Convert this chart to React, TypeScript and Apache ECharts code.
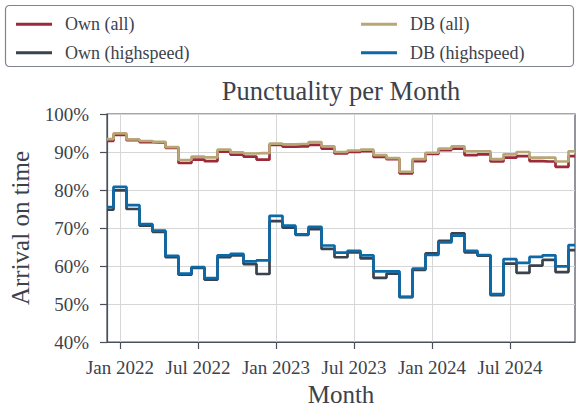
import React, { useEffect, useRef } from "react";
import * as echarts from "echarts";

// Monthly points Dec 2021 .. Dec 2024
const months: string[] = [
  "2021-12",
  "2022-01","2022-02","2022-03","2022-04","2022-05","2022-06","2022-07","2022-08","2022-09","2022-10","2022-11","2022-12",
  "2023-01","2023-02","2023-03","2023-04","2023-05","2023-06","2023-07","2023-08","2023-09","2023-10","2023-11","2023-12",
  "2024-01","2024-02","2024-03","2024-04","2024-05","2024-06","2024-07","2024-08","2024-09","2024-10","2024-11","2024-12",
];

const ownAll: number[] = [92.9, 94.5, 93.1, 92.6, 92.5, 91.1, 87.1, 88.0, 87.6, 90.1, 89.3, 88.8, 88.0, 91.9, 91.4, 91.5, 91.9, 90.9, 89.6, 90.0, 90.2, 88.7, 88.1, 84.4, 87.6, 89.5, 90.5, 90.9, 89.2, 89.4, 87.5, 88.5, 88.9, 87.6, 87.5, 86.1, 88.9];
const ownHigh: number[] = [74.8, 79.9, 75.0, 70.6, 69.0, 62.3, 57.7, 59.5, 56.4, 62.3, 62.8, 60.5, 57.9, 71.8, 70.1, 68.2, 69.7, 64.5, 62.3, 63.6, 62.0, 56.9, 58.0, 51.8, 59.0, 63.3, 66.6, 68.6, 63.6, 62.7, 52.3, 60.6, 58.2, 60.1, 61.6, 58.4, 64.2];
const dbAll: number[] = [93.4, 94.9, 93.3, 92.9, 92.7, 91.3, 87.9, 88.8, 88.6, 90.6, 89.9, 89.6, 89.7, 92.2, 92.0, 92.1, 92.6, 91.5, 90.0, 90.4, 90.6, 89.2, 88.4, 84.8, 88.1, 89.8, 90.9, 91.5, 90.2, 90.2, 88.1, 89.4, 90.0, 88.5, 88.5, 87.5, 90.2];
const dbHigh: number[] = [75.5, 80.8, 76.0, 71.0, 69.3, 62.7, 58.0, 59.7, 56.8, 62.8, 63.2, 61.2, 61.5, 73.2, 70.6, 68.3, 70.3, 65.4, 63.5, 64.0, 62.8, 58.6, 58.6, 51.9, 59.3, 62.9, 66.2, 68.0, 64.0, 62.9, 52.6, 61.8, 60.8, 62.4, 62.8, 59.9, 65.5];

const seriesNames: string[] = ["Own (all)", "Own (highspeed)", "DB (all)", "DB (highspeed)"];
const xTickLabels: string[] = ["Jan 2022", "Jul 2022", "Jan 2023", "Jul 2023", "Jan 2024", "Jul 2024"];
const xTickValues: number[] = [0, 6, 12, 18, 24, 30]; // months since Jan 2022
const yTicks: number[] = [40, 50, 60, 70, 80, 90, 100];

const FONT = "Liberation Serif";
const TEXT = "#3c424c";
const AXIS = "#4a505a";
const COLORS = ["#9c2a3a", "#3a424d", "#b8a676", "#0b69a7"];

const toPairs = (vals: number[]) => vals.map((v, i) => [i - 1, v]);

export default function App() {
  const ref = useRef<HTMLDivElement>(null);
  useEffect(() => {
    if (!ref.current) return;
    const chart = echarts.init(ref.current, undefined, { renderer: "svg" });
    const all = [ownAll, ownHigh, dbAll, dbHigh];
    const legendText = {
      fontFamily: FONT,
      fontSize: 18,
      color: TEXT,
      lineHeight: 22,
      padding: [0, 0, 0, 8],
    };
    chart.setOption({
      animation: false,
      backgroundColor: "#ffffff",
      textStyle: { fontFamily: FONT },
      title: {
        text: "Punctuality per Month",
        left: 341,
        textAlign: "center",
        top: 77,
        padding: 0,
        textStyle: { fontFamily: FONT, fontSize: 26.5, fontWeight: "normal", color: TEXT },
      },
      legend: [
        {
          orient: "vertical",
          left: 11,
          top: 8.3,
          itemGap: 6.4,
          icon: "rect",
          itemWidth: 36,
          itemHeight: 3,
          selectedMode: false,
          data: [seriesNames[0], seriesNames[1]],
          textStyle: legendText,
        },
        {
          orient: "vertical",
          left: 356,
          top: 8.3,
          itemGap: 6.4,
          icon: "rect",
          itemWidth: 36,
          itemHeight: 3,
          selectedMode: false,
          data: [seriesNames[2], seriesNames[3]],
          textStyle: legendText,
        },
      ],
      graphic: [
        {
          type: "rect",
          z: -1,
          shape: { x: 5.5, y: 5.5, width: 568, height: 61, r: 4 },
          style: { fill: "#ffffff", stroke: "#80858c", lineWidth: 1.2 },
        },
      ],
      grid: {
        left: 107,
        right: 3,
        top: 114,
        bottom: 67,
        show: true,
        borderColor: AXIS,
        borderWidth: 1.2,
        backgroundColor: "transparent",
      },
      xAxis: {
        type: "value",
        min: -1,
        max: 35,
        interval: 6,
        name: "Month",
        nameLocation: "middle",
        nameGap: 40,
        nameTextStyle: { fontFamily: FONT, fontSize: 25, color: TEXT },
        axisLine: { show: true, onZero: false, lineStyle: { color: AXIS, width: 1.2 } },
        axisTick: {
          show: true,
          length: 7,
          customValues: xTickValues,
          lineStyle: { color: AXIS, width: 1.2 },
        },
        axisLabel: {
          customValues: xTickValues,
          margin: 16,
          fontFamily: FONT,
          fontSize: 19,
          color: TEXT,
          formatter: (v: number) => {
            const k = xTickValues.indexOf(v);
            return k >= 0 ? xTickLabels[k] : "";
          },
        },
        splitLine: { show: true, lineStyle: { color: "#d6d6d6", width: 1 } },
      },
      yAxis: {
        type: "value",
        min: yTicks[0],
        max: yTicks[yTicks.length - 1],
        interval: 10,
        name: "Arrival on time",
        nameLocation: "middle",
        nameGap: 74,
        nameTextStyle: { fontFamily: FONT, fontSize: 25, color: TEXT },
        axisLine: { show: true, onZero: false, lineStyle: { color: AXIS, width: 1.2 } },
        axisTick: { show: true, length: 7, lineStyle: { color: AXIS, width: 1.2 } },
        axisLabel: {
          margin: 18,
          fontFamily: FONT,
          fontSize: 19,
          color: TEXT,
          formatter: "{value}%",
        },
        splitLine: { show: true, lineStyle: { color: "#d6d6d6", width: 1 } },
      },
      series: all.map((vals, k) => ({
        name: seriesNames[k],
        type: "line",
        step: "middle",
        data: toPairs(vals),
        showSymbol: false,
        symbol: "none",
        color: COLORS[k],
        lineStyle: { color: COLORS[k], width: 2.7 },
        z: 2 + k,
      })),
    });
    return () => chart.dispose();
  }, []);
  return (
    <div
      ref={ref}
      style={{ position: "fixed", left: 0, top: 0, width: 578, height: 412 }}
    />
  );
}
